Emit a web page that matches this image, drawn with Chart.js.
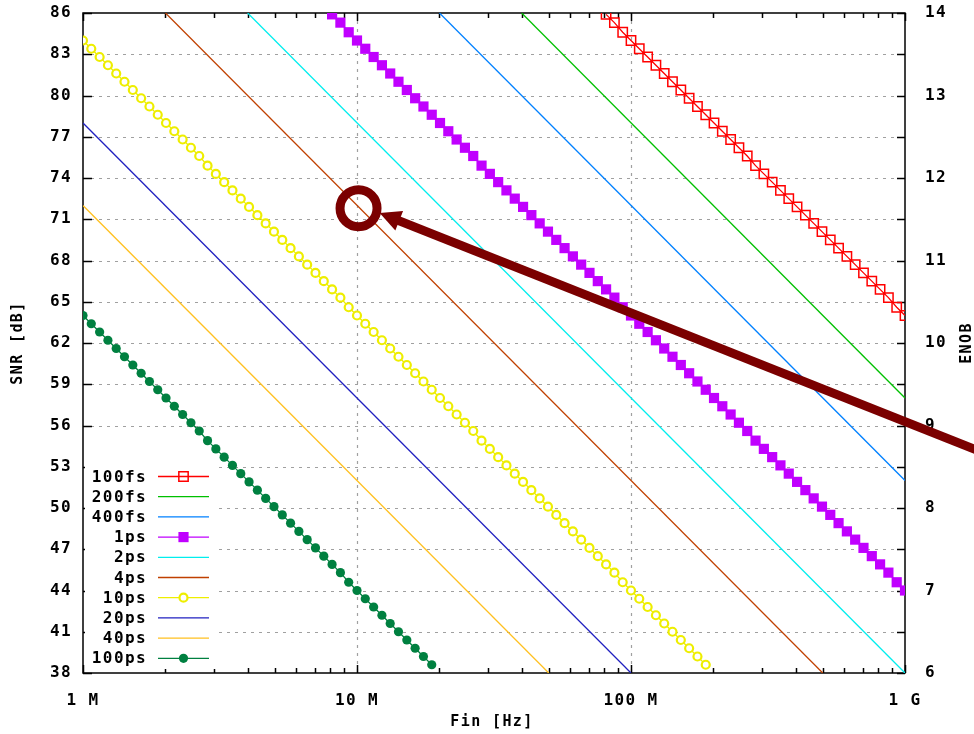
<!DOCTYPE html>
<html>
<head>
<meta charset="utf-8">
<script src="https://cdn.jsdelivr.net/npm/chart.js@4.4.1/dist/chart.umd.min.js"></script>
<style>
  html,body{margin:0;padding:0;background:#fff;}
  #wrap{width:974px;height:734px;}
</style>
</head>
<body>
<div id="wrap"><canvas id="snr"></canvas></div>
<script>
// sample frequencies in MHz (shared by the marked curves)
const FREQ = [
  1, 1.072, 1.15, 1.233, 1.322, 1.417, 1.52, 1.63, 1.748, 1.874, 2.009, 2.154, 2.31, 2.477, 2.656, 2.848, 3.054,
  3.275, 3.511, 3.765, 4.037, 4.329, 4.642, 4.977, 5.337, 5.722, 6.136, 6.579, 7.055, 7.565, 8.111, 8.698, 9.326,
  10, 10.72, 11.5, 12.33, 13.22, 14.17, 15.2, 16.3, 17.48, 18.74, 20.09, 21.54, 23.1, 24.77, 26.56, 28.48, 30.54,
  32.75, 35.11, 37.65, 40.37, 43.29, 46.42, 49.77, 53.37, 57.22, 61.36, 65.79, 70.55, 75.65, 81.11, 86.98, 93.26,
  100, 107.2, 115, 123.3, 132.2, 141.7, 152, 163, 174.8, 187.4, 200.9, 215.4, 231, 247.7, 265.6, 284.8, 305.4,
  327.5, 351.1, 376.5, 403.7, 432.9, 464.2, 497.7, 533.7, 572.2, 613.6, 657.9, 705.5, 756.5, 811.1, 869.8, 932.6, 1000
];

// marked curves: first FREQ index + SNR values [dB]
const START_100FS = 63;
const SNR_100FS = [85.9, 85.3, 84.6, 84.0, 83.4, 82.8, 82.2, 81.6, 81.0, 80.4, 79.8, 79.2, 78.6, 78.0, 77.4, 76.8,
  76.2, 75.6, 74.9, 74.3, 73.7, 73.1, 72.5, 71.9, 71.3, 70.7, 70.1, 69.5, 68.9, 68.3, 67.7, 67.1, 66.5, 65.9, 65.3,
  64.6, 64.0];

const START_1PS = 30;
const SNR_1PS = [85.9, 85.3, 84.6,
  84.0, 83.4, 82.8, 82.2, 81.6, 81.0, 80.4, 79.8, 79.2, 78.6, 78.0, 77.4, 76.8, 76.2, 75.6, 74.9, 74.3, 73.7, 73.1,
  72.5, 71.9, 71.3, 70.7, 70.1, 69.5, 68.9, 68.3, 67.7, 67.1, 66.5, 65.9, 65.3, 64.6,
  64.0, 63.4, 62.8, 62.2, 61.6, 61.0, 60.4, 59.8, 59.2, 58.6, 58.0, 57.4, 56.8, 56.2, 55.6, 54.9, 54.3, 53.7, 53.1,
  52.5, 51.9, 51.3, 50.7, 50.1, 49.5, 48.9, 48.3, 47.7, 47.1, 46.5, 45.9, 45.3, 44.6,
  44.0];

const START_10PS = 0;
const SNR_10PS = [
  84.0, 83.4, 82.8, 82.2, 81.6, 81.0, 80.4, 79.8, 79.2, 78.6, 78.0, 77.4, 76.8, 76.2, 75.6, 74.9, 74.3, 73.7, 73.1,
  72.5, 71.9, 71.3, 70.7, 70.1, 69.5, 68.9, 68.3, 67.7, 67.1, 66.5, 65.9, 65.3, 64.6,
  64.0, 63.4, 62.8, 62.2, 61.6, 61.0, 60.4, 59.8, 59.2, 58.6, 58.0, 57.4, 56.8, 56.2, 55.6, 54.9, 54.3, 53.7, 53.1,
  52.5, 51.9, 51.3, 50.7, 50.1, 49.5, 48.9, 48.3, 47.7, 47.1, 46.5, 45.9, 45.3, 44.6,
  44.0, 43.4, 42.8, 42.2, 41.6, 41.0, 40.4, 39.8, 39.2, 38.6];

const START_100PS = 0;
const SNR_100PS = [
  64.0, 63.4, 62.8, 62.2, 61.6, 61.0, 60.4, 59.8, 59.2, 58.6, 58.0, 57.4, 56.8, 56.2, 55.6, 54.9, 54.3, 53.7, 53.1,
  52.5, 51.9, 51.3, 50.7, 50.1, 49.5, 48.9, 48.3, 47.7, 47.1, 46.5, 45.9, 45.3, 44.6,
  44.0, 43.4, 42.8, 42.2, 41.6, 41.0, 40.4, 39.8, 39.2, 38.6];

// plain curves: where they enter and leave the plot box [MHz], [dB]
const F_200FS = [39.9, 1000],  S_200FS = [86, 58.0];
const F_400FS = [20.0, 1000],  S_400FS = [86, 52.0];
const F_2PS   = [3.99, 1000],  S_2PS   = [86, 38.0];
const F_4PS   = [2.0, 501],    S_4PS   = [86, 38];
const F_20PS  = [1, 100],      S_20PS  = [78.0, 38];
const F_40PS  = [1, 50.1],     S_40PS  = [72.0, 38];

const X_TICKS = [1, 10, 100, 1000];
const X_TICK_LABELS = ['1 M', '10 M', '100 M', '1 G'];
const X_MINOR = [2,3,4,5,6,7,8,9, 20,30,40,50,60,70,80,90, 200,300,400,500,600,700,800,900];
const Y_TICKS = [38, 41, 44, 47, 50, 53, 56, 59, 62, 65, 68, 71, 74, 77, 80, 83, 86];
const ENOB_TICKS = [6, 7, 8, 9, 10, 11, 12, 13, 14];

const FONT = 'DejaVu Sans Mono';
const ANNOT = '#7b0000';

const marked = (start, vals) => vals.map((v, i) => ({x: FREQ[start + i], y: v}));
const plain = (fs, ss) => fs.map((f, i) => ({x: f, y: ss[i]}));

const series = [
  {label:'100fs', data:marked(START_100FS, SNR_100FS), color:'#ff0000', mk:'rect', r:6.6, fill:'rgba(0,0,0,0)', bw:1.5},
  {label:'200fs', data:plain(F_200FS, S_200FS), color:'#00c000'},
  {label:'400fs', data:plain(F_400FS, S_400FS), color:'#0080ff'},
  {label:'1ps',   data:marked(START_1PS, SNR_1PS), color:'#c000ff', mk:'rect', r:7.2, fill:'#c000ff', bw:0},
  {label:'2ps',   data:plain(F_2PS, S_2PS), color:'#00eeee'},
  {label:'4ps',   data:plain(F_4PS, S_4PS), color:'#c04000'},
  {label:'10ps',  data:marked(START_10PS, SNR_10PS), color:'#eeee00', mk:'circle', r:4, fill:'#ffffff', bw:2.2},
  {label:'20ps',  data:plain(F_20PS, S_20PS), color:'#2020c0'},
  {label:'40ps',  data:plain(F_40PS, S_40PS), color:'#ffc020'},
  {label:'100ps', data:marked(START_100PS, SNR_100PS), color:'#008040', mk:'circle', r:4.6, fill:'#008040', bw:0},
];

const datasets = series.map(s => ({
  label: s.label, data: s.data, borderColor: s.color, borderWidth: 1.3, tension: 0,
  pointStyle: s.mk || 'circle', pointRadius: s.mk ? s.r : 0, pointHoverRadius: 0,
  pointBackgroundColor: s.fill || s.color, pointBorderColor: s.color, pointBorderWidth: s.bw || 0
}));

// grid, border and inward tics like gnuplot
const frame = {
  id: 'frame',
  beforeDraw(chart){ chart.ctx.letterSpacing = '1.4px'; },
  beforeDatasetsDraw(chart){
    const {ctx, chartArea:a, scales:{x, y}} = chart;
    ctx.save();
    ctx.strokeStyle = '#a0a0a0'; ctx.lineWidth = 1.2; ctx.setLineDash([3, 5]);
    ctx.beginPath();
    Y_TICKS.slice(1, -1).forEach(v => { const p = Math.round(y.getPixelForValue(v)) + 0.5; ctx.moveTo(a.left, p); ctx.lineTo(a.right, p); });
    X_TICKS.slice(1, -1).forEach(v => { const p = Math.round(x.getPixelForValue(v)) + 0.5; ctx.moveTo(p, a.top); ctx.lineTo(p, a.bottom); });
    ctx.stroke();
    ctx.setLineDash([]);
    ctx.strokeStyle = '#000'; ctx.lineWidth = 1.5;
    ctx.beginPath();
    Y_TICKS.forEach(v => { const p = Math.round(y.getPixelForValue(v)) + 0.5;
      ctx.moveTo(a.left, p); ctx.lineTo(a.left + 9, p); ctx.moveTo(a.right, p); ctx.lineTo(a.right - 8, p); });
    X_TICKS.forEach(v => { const p = Math.round(x.getPixelForValue(v)) + 0.5;
      ctx.moveTo(p, a.bottom); ctx.lineTo(p, a.bottom - 8); ctx.moveTo(p, a.top); ctx.lineTo(p, a.top + 8); });
    X_MINOR.forEach(v => { const p = Math.round(x.getPixelForValue(v)) + 0.5;
      ctx.moveTo(p, a.bottom); ctx.lineTo(p, a.bottom - 5); ctx.moveTo(p, a.top); ctx.lineTo(p, a.top + 5); });
    ctx.stroke();
    ctx.strokeRect(a.left, a.top, a.right - a.left, a.bottom - a.top);
    ctx.restore();
  },
  afterDatasetsDraw(chart){
    const {ctx, chartArea:a, scales:{x, y}} = chart;
    ctx.save();
    // key box
    ctx.fillStyle = '#fff';
    ctx.fillRect(a.left + 2, 464, 134, 205);
    ctx.font = `bold 16px "${FONT}"`; ctx.textAlign = 'right'; ctx.textBaseline = 'middle';
    series.forEach((s, i) => {
      const ry = 476.5 + i * 20.2;
      ctx.fillStyle = '#000'; ctx.fillText(s.label, 147, ry + 1);
      ctx.strokeStyle = s.color; ctx.lineWidth = 1.3;
      ctx.beginPath(); ctx.moveTo(158, ry); ctx.lineTo(209, ry); ctx.stroke();
      if (s.mk) {
        ctx.fillStyle = s.fill; ctx.lineWidth = s.bw;
        if (s.mk === 'rect') {
          const h = s.r * Math.SQRT1_2;
          ctx.beginPath(); ctx.rect(183.5 - h, ry - h, 2*h, 2*h); ctx.fill(); if (s.bw) ctx.stroke();
        } else {
          ctx.beginPath(); ctx.arc(183.5, ry, s.r, 0, Math.PI*2); ctx.fill(); if (s.bw) ctx.stroke();
        }
      }
    });
    // axis titles
    ctx.fillStyle = '#000'; ctx.textAlign = 'center'; ctx.font = `bold 15px "${FONT}"`;
    const midY = (a.top + a.bottom) / 2;
    ctx.fillText('Fin [Hz]', (a.left + a.right) / 2 - 2, 722);
    ctx.save(); ctx.translate(18, midY); ctx.rotate(-Math.PI/2); ctx.fillText('SNR [dB]', 0, 0); ctx.restore();
    ctx.save(); ctx.translate(967, midY); ctx.rotate(-Math.PI/2); ctx.fillText('ENOB', 0, 0); ctx.restore();
    // annotation: ring + arrow
    ctx.strokeStyle = ANNOT; ctx.fillStyle = ANNOT;
    const cx = x.getPixelForValue(10.13), cy = y.getPixelForValue(71.8);
    ctx.lineWidth = 9; ctx.beginPath(); ctx.arc(cx, cy, 18.5, 0, Math.PI*2); ctx.stroke();
    const tx = x.getPixelForValue(12.1), ty = y.getPixelForValue(71.45);
    const sx = x.getPixelForValue(2000), sy = y.getPixelForValue(53.9);
    const L = Math.hypot(sx - tx, sy - ty), ux = (sx - tx) / L, uy = (sy - ty) / L;
    ctx.lineWidth = 9; ctx.lineCap = 'butt';
    ctx.beginPath(); ctx.moveTo(tx + ux*15, ty + uy*15); ctx.lineTo(sx, sy); ctx.stroke();
    ctx.beginPath(); ctx.moveTo(tx, ty);
    ctx.lineTo(tx + ux*21 - uy*10.5, ty + uy*21 + ux*10.5);
    ctx.lineTo(tx + ux*21 + uy*10.5, ty + uy*21 - ux*10.5);
    ctx.closePath(); ctx.fill();
    ctx.restore();
  }
};

const noPad = s => { s.paddingTop = 0; s.paddingBottom = 0; s.paddingLeft = 0; s.paddingRight = 0; };

Chart.defaults.font.family = FONT;
Chart.defaults.font.weight = 'bold';
Chart.defaults.font.size = 16;
Chart.defaults.color = '#000';

new Chart(document.getElementById('snr'), {
  type: 'line',
  data: { datasets },
  options: {
    responsive: true, maintainAspectRatio: false, animation: false,
    layout: { padding: { top: 13, left: 0, right: 0, bottom: 0 } },
    plugins: { legend: { display: false }, tooltip: { enabled: false } },
    scales: {
      x: {
        type: 'logarithmic', position: 'bottom', min: 1, max: 1000,
        grid: { display: false, drawTicks: false }, border: { display: false },
        afterBuildTicks: s => { s.ticks = X_TICKS.map(v => ({value: v})); },
        afterFit: s => { s.height = 61; noPad(s); },
        ticks: { autoSkip: false, maxRotation: 0, padding: 18,
          callback: (v) => X_TICK_LABELS[X_TICKS.indexOf(v)] }
      },
      y: {
        type: 'linear', position: 'left', min: 38, max: 86,
        grid: { display: false, drawTicks: false }, border: { display: false },
        afterBuildTicks: s => { s.ticks = Y_TICKS.map(v => ({value: v})); },
        afterFit: s => { s.width = 83; noPad(s); },
        ticks: { autoSkip: false, padding: 11 }
      },
      y2: {
        type: 'linear', position: 'right', min: 6, max: 14,
        grid: { display: false, drawTicks: false }, border: { display: false },
        afterBuildTicks: s => { s.ticks = ENOB_TICKS.map(v => ({value: v})); },
        afterFit: s => { s.width = 69; noPad(s); },
        ticks: { autoSkip: false, padding: 20 }
      }
    }
  },
  plugins: [frame]
});
</script>
</body>
</html>
